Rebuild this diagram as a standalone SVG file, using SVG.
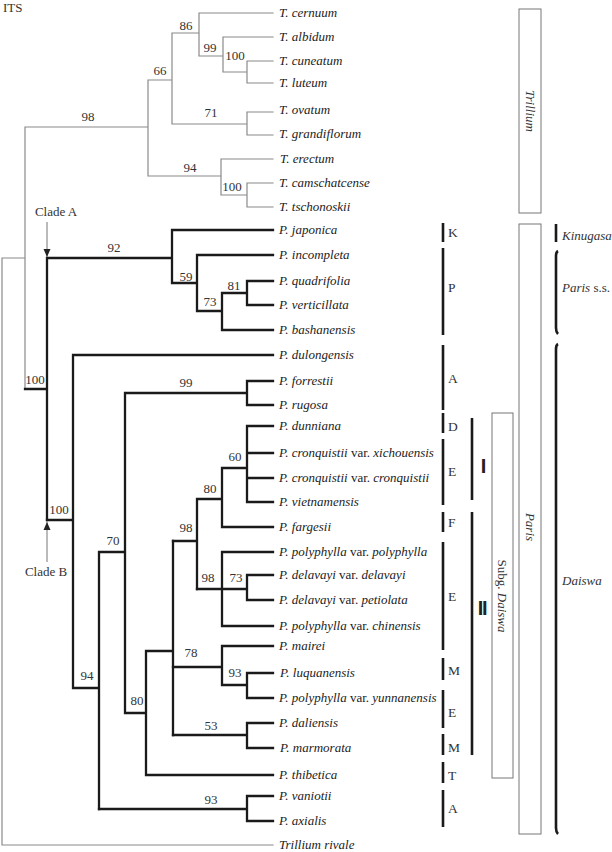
<svg xmlns="http://www.w3.org/2000/svg" width="612" height="852" viewBox="0 0 612 852">
<defs>
<style>
.b{stroke:#1a1a1a;stroke-width:2.3;fill:none;stroke-linecap:square}
.g{stroke:#8a8a8a;stroke-width:1.2;fill:none;stroke-linecap:square}
.a{stroke:#777;stroke-width:1;fill:none}
.tx{font-family:'Liberation Serif',serif;font-style:italic;font-size:13px;fill:#222}
.tx tspan.r{font-style:normal}
.n{font-family:'Liberation Serif',serif;font-size:13px;fill:#333;text-anchor:middle}
.lb{font-family:'Liberation Serif',serif;font-size:13px;fill:#333}
.bar{stroke:#1a1a1a;stroke-width:2.6}
.box{fill:#fff;stroke:#777;stroke-width:1}
.lt{font-family:'Liberation Serif',serif;font-size:13.5px;fill:#333}
.rn{font-family:'Liberation Sans',sans-serif;font-weight:bold;font-size:20px;fill:#222}
.it{font-style:italic}
</style>
<marker id="ah" viewBox="0 0 8 10" refX="8" refY="5" markerWidth="8" markerHeight="10" markerUnits="userSpaceOnUse" orient="auto">
<path d="M0,1.5 L8,5 L0,8.5 Z" fill="#222"/>
</marker>
</defs>

<g id="title"><text class="lb" x="3" y="12">ITS</text></g>

<g id="connectors">
<path class="g" d="M2,258 V845 H273 M2,258 H25 M25,127 V389 M25,127 H148 M148,80 V176 M148,80 H172 M172,33 V124 M172,33 H199 M199,13 V56 M199,13 H273 M199,56 H223 M223,37 V72 M223,37 H273 M223,72 H247 M247,61 V83 M247,61 H273 M247,83 H273 M172,124 H247 M247,112 V135 M247,112 H273 M247,135 H273 M148,176 H221 M221,159 V195 M221,159 H273 M221,195 H247 M247,183 V207 M247,183 H273 M247,207 H273"/>
<path class="b" d="M25,389 H47 M47,258 V520 M47,258 H172 M172,230 V283 M172,230 H273 M172,283 H197 M197,255 V311 M197,255 H273 M197,311 H222 M222,293 V330 M222,293 H247 M247,281 V305 M247,281 H273 M247,305 H273 M222,330 H273"/>
<path class="b" d="M47,520 H73 M73,355 V688 M73,355 H273 M73,688 H99 M99,552 V809 M99,552 H125 M125,393 V713 M125,393 H247 M247,381 V405 M247,381 H273 M247,405 H273 M125,713 H146 M146,651 V775 M146,775 H273 M146,651 H173 M173,541 V735"/>
<path class="b" d="M173,541 H197 M197,499 V589 M197,499 H222 M222,468 V527 M222,527 H273 M222,468 H247 M247,426 V502 M247,426 H273 M247,453 H273 M247,478 H273 M247,502 H273"/>
<path class="b" d="M197,589 H222 M222,552 V626 M222,552 H273 M222,626 H273 M222,589 H247 M247,575 V600 M247,575 H273 M247,600 H273"/>
<path class="b" d="M173,667 H222 M222,646 V685 M222,646 H273 M222,685 H247 M247,673 V698 M247,673 H273 M247,698 H273 M173,735 H247 M247,723 V748 M247,723 H273 M247,748 H273"/>
<path class="b" d="M99,809 H247 M247,796 V821 M247,796 H273 M247,821 H273"/>
<path class="a" d="M47,222 V257" marker-end="url(#ah)"/>
<path class="a" d="M47,562 V522" marker-end="url(#ah)"/>
</g>

<g id="clade-labels">
<text class="lb" x="56" y="216" text-anchor="middle">Clade A</text>
<text class="lb" x="46" y="576" text-anchor="middle">Clade B</text>
</g>

<g id="support">
<text class="n" x="88" y="121">98</text>
<text class="n" x="160" y="75">66</text>
<text class="n" x="186" y="30">86</text>
<text class="n" x="210" y="52">99</text>
<text class="n" x="235" y="60">100</text>
<text class="n" x="211" y="117">71</text>
<text class="n" x="190" y="172">94</text>
<text class="n" x="232" y="191">100</text>
<text class="n" x="114" y="252">92</text>
<text class="n" x="186" y="281">59</text>
<text class="n" x="210" y="306">73</text>
<text class="n" x="234" y="290">81</text>
<text class="n" x="35" y="384">100</text>
<text class="n" x="186" y="387">99</text>
<text class="n" x="235" y="461">60</text>
<text class="n" x="210" y="493">80</text>
<text class="n" x="59" y="514">100</text>
<text class="n" x="186" y="532">98</text>
<text class="n" x="113" y="545">70</text>
<text class="n" x="208" y="582">98</text>
<text class="n" x="236" y="582">73</text>
<text class="n" x="191" y="657">78</text>
<text class="n" x="87" y="680">94</text>
<text class="n" x="235" y="677">93</text>
<text class="n" x="137" y="705">80</text>
<text class="n" x="211" y="730">53</text>
<text class="n" x="211" y="804">93</text>
</g>

<g id="taxa">
<g id="t-cernuum"><text class="tx" x="279" y="17">T. cernuum</text></g>
<g id="t-albidum"><text class="tx" x="279" y="41">T. albidum</text></g>
<g id="t-cuneatum"><text class="tx" x="279" y="65">T. cuneatum</text></g>
<g id="t-luteum"><text class="tx" x="279" y="87">T. luteum</text></g>
<g id="t-ovatum"><text class="tx" x="279" y="114">T. ovatum</text></g>
<g id="t-grandiflorum"><text class="tx" x="279" y="138">T. grandiflorum</text></g>
<g id="t-erectum"><text class="tx" x="280" y="163">T. erectum</text></g>
<g id="t-camschatcense"><text class="tx" x="279" y="187">T. camschatcense</text></g>
<g id="t-tschonoskii"><text class="tx" x="279" y="211">T. tschonoskii</text></g>
<g id="p-japonica"><text class="tx" x="279" y="234">P. japonica</text></g>
<g id="p-incompleta"><text class="tx" x="279" y="259">P. incompleta</text></g>
<g id="p-quadrifolia"><text class="tx" x="279" y="285">P. quadrifolia</text></g>
<g id="p-verticillata"><text class="tx" x="279" y="309">P. verticillata</text></g>
<g id="p-bashanensis"><text class="tx" x="279" y="334">P. bashanensis</text></g>
<g id="p-dulongensis"><text class="tx" x="279" y="359">P. dulongensis</text></g>
<g id="p-forrestii"><text class="tx" x="279" y="385">P. forrestii</text></g>
<g id="p-rugosa"><text class="tx" x="279" y="409">P. rugosa</text></g>
<g id="p-dunniana"><text class="tx" x="279" y="430">P. dunniana</text></g>
<g id="p-cronquistii-xich"><text class="tx" x="279" y="457">P. cronquistii <tspan class="r">var.</tspan> xichouensis</text></g>
<g id="p-cronquistii-cron"><text class="tx" x="279" y="482">P. cronquistii <tspan class="r">var.</tspan> cronquistii</text></g>
<g id="p-vietnamensis"><text class="tx" x="279" y="506">P. vietnamensis</text></g>
<g id="p-fargesii"><text class="tx" x="279" y="531">P. fargesii</text></g>
<g id="p-polyphylla-poly"><text class="tx" x="279" y="556">P. polyphylla <tspan class="r">var.</tspan> polyphylla</text></g>
<g id="p-delavayi-dela"><text class="tx" x="279" y="579">P. delavayi <tspan class="r">var.</tspan> delavayi</text></g>
<g id="p-delavayi-peti"><text class="tx" x="279" y="604">P. delavayi <tspan class="r">var.</tspan> petiolata</text></g>
<g id="p-polyphylla-chin"><text class="tx" x="279" y="630">P. polyphylla <tspan class="r">var.</tspan> chinensis</text></g>
<g id="p-mairei"><text class="tx" x="279" y="650">P. mairei</text></g>
<g id="p-luquanensis"><text class="tx" x="280" y="677">P. luquanensis</text></g>
<g id="p-polyphylla-yunn"><text class="tx" x="279" y="702">P. polyphylla <tspan class="r">var.</tspan> yunnanensis</text></g>
<g id="p-daliensis"><text class="tx" x="279" y="727">P. daliensis</text></g>
<g id="p-marmorata"><text class="tx" x="280" y="752">P. marmorata</text></g>
<g id="p-thibetica"><text class="tx" x="279" y="779">P. thibetica</text></g>
<g id="p-vaniotii"><text class="tx" x="279" y="800">P. vaniotii</text></g>
<g id="p-axialis"><text class="tx" x="279" y="825">P. axialis</text></g>
<g id="t-rivale"><text class="tx" x="279" y="849">Trillium rivale</text></g>
</g>

<g id="section-bars">
<g id="sec-K"><line class="bar" x1="443" y1="223" x2="443" y2="242"/><text class="lt" x="448" y="237">K</text></g>
<g id="sec-P"><line class="bar" x1="443" y1="248" x2="443" y2="335"/><text class="lt" x="448" y="292">P</text></g>
<g id="sec-A1"><line class="bar" x1="443" y1="345" x2="443" y2="410"/><text class="lt" x="448" y="383">A</text></g>
<g id="sec-D"><line class="bar" x1="443" y1="413" x2="443" y2="433"/><text class="lt" x="448" y="431">D</text></g>
<g id="sec-E1"><line class="bar" x1="443" y1="439" x2="443" y2="505"/><text class="lt" x="448" y="476">E</text></g>
<g id="sec-F"><line class="bar" x1="443" y1="512" x2="443" y2="532"/><text class="lt" x="448" y="527">F</text></g>
<g id="sec-E2"><line class="bar" x1="443" y1="542" x2="443" y2="650"/><text class="lt" x="448" y="601">E</text></g>
<g id="sec-M1"><line class="bar" x1="443" y1="658" x2="443" y2="680"/><text class="lt" x="448" y="675">M</text></g>
<g id="sec-E3"><line class="bar" x1="443" y1="690" x2="443" y2="728"/><text class="lt" x="448" y="717">E</text></g>
<g id="sec-M2"><line class="bar" x1="443" y1="734" x2="443" y2="755"/><text class="lt" x="448" y="752">M</text></g>
<g id="sec-T"><line class="bar" x1="443" y1="762" x2="443" y2="783"/><text class="lt" x="448" y="780">T</text></g>
<g id="sec-A2"><line class="bar" x1="443" y1="790" x2="443" y2="827"/><text class="lt" x="448" y="813">A</text></g>
</g>

<g id="groups">
<g id="grp-I"><line class="bar" x1="472" y1="418" x2="472" y2="500"/><text class="rn" x="483.5" y="473" text-anchor="middle">I</text></g>
<g id="grp-II"><line class="bar" x1="472" y1="512" x2="472" y2="755"/><text class="rn" x="482" y="615" text-anchor="middle" letter-spacing="-1.2">II</text></g>
</g>

<g id="boxes">
<g id="box-trillium"><rect class="box" x="519" y="9" width="22" height="204"/><text class="lb it" transform="translate(526,111) rotate(90)" text-anchor="middle">Trillium</text></g>
<g id="box-paris"><rect class="box" x="519" y="224" width="22" height="610"/><text class="lb it" transform="translate(526,527) rotate(90)" text-anchor="middle">Paris</text></g>
<g id="box-daiswa"><rect class="box" x="492" y="413" width="21" height="365"/><text class="lb" transform="translate(498,596) rotate(90)" text-anchor="middle">Subg. <tspan class="it">Daiswa</tspan></text></g>
</g>

<g id="genera">
<g id="gen-kinugasa"><line class="bar" x1="556" y1="224" x2="556" y2="242"/><text class="lb it" x="562" y="240">Kinugasa</text></g>
<g id="gen-paris-ss"><path class="bar" fill="none" d="M558,251 Q556,252 556,256 V328 Q556,332 558,334"/><text class="lb" x="562" y="292"><tspan class="it">Paris</tspan> s.s.</text></g>
<g id="gen-daiswa"><path class="bar" fill="none" d="M558,344 Q556,345 556,349 V828 Q556,832 558,834"/><text class="lb it" x="562" y="585">Daiswa</text></g>
</g>
</svg>
